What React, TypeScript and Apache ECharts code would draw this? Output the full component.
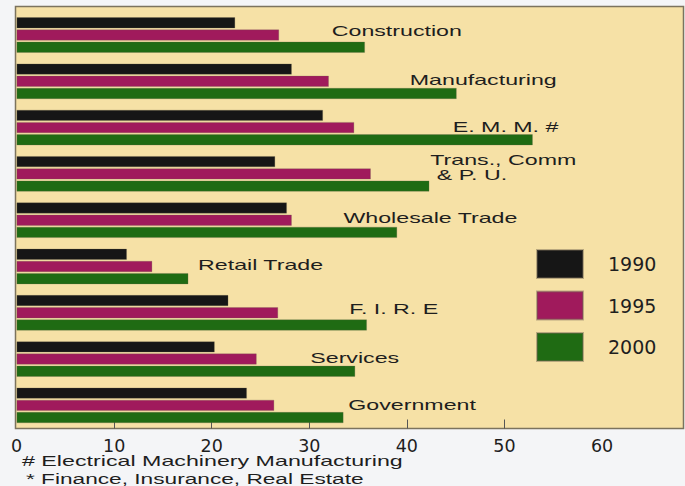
import { useEffect, useRef } from "react";
import * as echarts from "echarts";

const categories = [
  "Construction",
  "Manufacturing",
  "E. M. M. #",
  "Trans., Comm & P. U.",
  "Wholesale Trade",
  "Retail Trade",
  "F. I. R. E",
  "Services",
  "Government",
];
const labelTexts = [
  "Construction",
  "Manufacturing",
  "E. M. M. #",
  "Trans., Comm\n & P. U.",
  "Wholesale Trade",
  "Retail Trade",
  "F. I. R. E",
  "Services",
  "Government",
];
const years = ["1990", "1995", "2000"];
const values1990 = [22.4, 28.2, 31.4, 26.5, 27.7, 11.3, 21.7, 20.3, 23.6];
const values1995 = [26.9, 32.0, 34.6, 36.3, 28.2, 13.9, 26.8, 24.6, 26.4];
const values2000 = [35.7, 45.1, 52.9, 42.3, 39.0, 17.6, 35.9, 34.7, 33.5];
const tickValues = [0, 10, 20, 30, 40, 50, 60];
const footnotes = [
  "# Electrical Machinery Manufacturing",
  "* Finance, Insurance, Real Estate",
];
// where each category's annotation text starts (in axis units)
const labelAnchors = [32.3, 40.3, 44.7, 42.4, 33.5, 18.6, 34.1, 30.1, 34.0];

const labelShift = [-4, -2, -1, -7, -2, -2, -4, -1, -1];
const colors = ["#161616", "#a01a5c", "#1f6b13"];
const TEXT_FONT = '"Liberation Sans", Arial, Helvetica, sans-serif';

export default function App() {
  const ref = useRef<HTMLDivElement>(null);
  useEffect(() => {
    if (!ref.current) return;
    const chart = echarts.init(ref.current, undefined, { renderer: "svg" });
    const seriesValues = [values1990, values1995, values2000];
    const option: any = {
      animation: false,
      backgroundColor: "#f4f5f7",
      graphic: [
        {
          type: "rect",
          z: -1,
          silent: true,
          shape: { x: 15.5, y: 6.5, width: 668, height: 422 },
          style: { fill: "#f6e1a6", stroke: "#7b735e", lineWidth: 1.5 },
        },
        {
          type: "text",
          x: 22,
          y: 461,
          scaleX: 1.66,
          silent: true,
          style: {
            text: footnotes[0],
            fill: "#1e1e1e",
            font: "14px " + TEXT_FONT,
            textAlign: "left",
            align: "left",
            textVerticalAlign: "middle",
            verticalAlign: "middle",
          },
        },
        {
          type: "text",
          x: 26,
          y: 479.5,
          scaleX: 1.62,
          silent: true,
          style: {
            text: footnotes[1],
            fill: "#1e1e1e",
            font: "14px " + TEXT_FONT,
            textAlign: "left",
            align: "left",
            textVerticalAlign: "middle",
            verticalAlign: "middle",
          },
        },
      ],
      grid: { left: 16.6, right: 2, top: 11.85, bottom: 57.5, containLabel: false },
      legend: {
        data: years,
        orient: "vertical",
        left: 536,
        top: 249,
        padding: 0,
        itemWidth: 46,
        itemHeight: 28,
        itemGap: 11.5,
        icon: "rect",
        selectedMode: false,
        textStyle: {
          fontFamily: "DejaVu Sans",
          fontSize: 19,
          color: "#1e1e1e",
          padding: [0, 0, 0, 20],
        },
      },
      xAxis: {
        type: "value",
        min: 0,
        max: 68.3,
        interval: 10,
        axisLine: { show: false },
        splitLine: { show: false },
        axisTick: {
          show: true,
          inside: true,
          length: 9,
          lineStyle: { color: "#555", width: 1 },
          customValues: [10, 20, 30, 40, 50],
        },
        axisLabel: {
          customValues: tickValues,
          margin: 8,
          fontFamily: "DejaVu Sans",
          fontSize: 17.5,
          color: "#1e1e1e",
        },
      },
      yAxis: {
        type: "category",
        data: categories,
        inverse: true,
        axisLine: { show: false },
        axisTick: { show: false },
        axisLabel: { show: false },
        splitLine: { show: false },
      },
      series: [
        ...years.map((y, k) => ({
          type: "bar",
          name: y,
          data: seriesValues[k],
          barWidth: 11,
          barGap: "11%",
          itemStyle: {
            color: colors[k],
            borderColor: "rgba(110,100,80,0.45)",
            borderWidth: 0.6,
          },
        })),
        {
          type: "custom",
          name: "labels",
          silent: true,
          z: 5,
          data: labelAnchors.map((x, i) => [x, i]),
          renderItem: (params: any, api: any) => {
            const i = params.dataIndex;
            const p = api.coord([api.value(0), api.value(1)]);
            return {
              type: "text",
              x: p[0],
              y: p[1] + labelShift[i],
              scaleX: 1.6,
              style: {
                text: labelTexts[i],
                fill: "#1e1e1e",
                font: "14.5px " + TEXT_FONT,
                textAlign: "left",
                align: "left",
                textVerticalAlign: "middle",
                verticalAlign: "middle",
                lineHeight: 15,
              },
            };
          },
        },
      ],
    };
    chart.setOption(option);
    return () => chart.dispose();
  }, []);
  return (
    <div
      ref={ref}
      style={{ position: "fixed", left: 0, top: 0, width: 685, height: 486 }}
    />
  );
}
